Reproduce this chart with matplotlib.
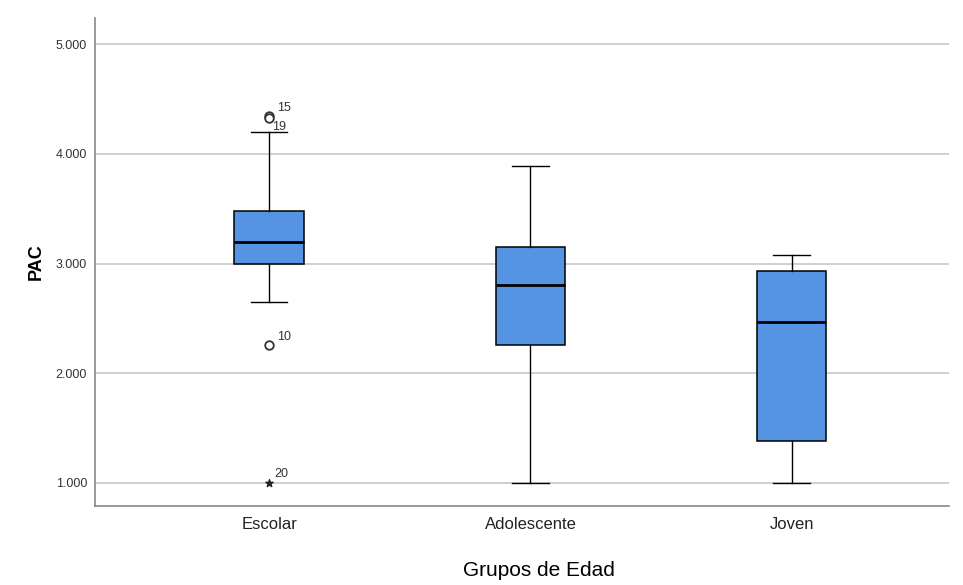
import matplotlib.pyplot as plt

plt.rcParams["font.family"] = ["Liberation Sans", "DejaVu Sans"]

# Datos (boxplot estilo SPSS)
grupos = ["Escolar", "Adolescente", "Joven"]
q1 = [3.000, 2.257, 1.383]
mediana = [3.196, 2.804, 2.467]
q3 = [3.478, 3.150, 2.932]
bigote_inf = [2.649, 1.000, 1.000]
bigote_sup = [4.198, 3.888, 3.077]

# valores atipicos (circulo) y extremos (asterisco) del grupo Escolar
atipicos = [4.344, 4.330, 2.257]
atipicos_id = ["15", "19", "10"]
extremos = [1.000]
extremos_id = ["20"]

yticks = [1, 2, 3, 4, 5]

fig = plt.figure(figsize=(9.63, 5.85), dpi=100)
ax = fig.add_axes([0.099, 0.135, 0.886, 0.834])

stats = []
for i, g in enumerate(grupos):
    stats.append({
        "label": g, "q1": q1[i], "med": mediana[i], "q3": q3[i],
        "whislo": bigote_inf[i], "whishi": bigote_sup[i], "fliers": [],
    })

ax.bxp(stats, positions=range(len(grupos)), widths=0.265, patch_artist=True,
       boxprops=dict(facecolor="#5594e3", edgecolor="black", linewidth=1.1),
       medianprops=dict(color="black", linewidth=2),
       whiskerprops=dict(color="black", linewidth=1),
       capprops=dict(color="black", linewidth=1),
       capwidths=0.14, zorder=3)

# atipicos
ax.scatter([0] * len(atipicos), atipicos, s=38, facecolors="white",
           edgecolors="#333333", linewidths=1.3, zorder=4)
ax.scatter([0] * len(extremos), extremos, marker="*", s=30, color="#222222", zorder=4)

desp = {"15": (6, 4), "19": (2, -9), "10": (6, 4), "20": (4, 4)}
for v, t in zip(atipicos + extremos, atipicos_id + extremos_id):
    ax.annotate(t, (0, v), xytext=desp[t], textcoords="offset points",
                fontsize=9, color="#333333")

ax.set_xlim(-0.665, 2.6)
ax.set_ylim(0.79, 5.237)
ax.set_yticks(yticks)
ax.set_yticklabels([f"{v:.3f}" for v in yticks])
ax.set_xticks(range(len(grupos)))
ax.set_xticklabels(grupos)
ax.tick_params(axis="y", length=0, labelsize=9, labelcolor="#333333", pad=6)
ax.tick_params(axis="x", length=0, labelsize=12, labelcolor="#222222", pad=8)

ax.grid(axis="y", color="#c8c8c8", linewidth=1.2, zorder=0)
ax.set_axisbelow(True)
for s in ["top", "right"]:
    ax.spines[s].set_visible(False)
for s in ["left", "bottom"]:
    ax.spines[s].set_color("#888888")
    ax.spines[s].set_linewidth(1.2)

ax.set_ylabel("PAC", fontsize=13, fontweight="bold", labelpad=8)
fig.text(0.56, 0.024, "Grupos de Edad", fontsize=15, ha="center", va="center")

fig.savefig("out.png", dpi=100)
